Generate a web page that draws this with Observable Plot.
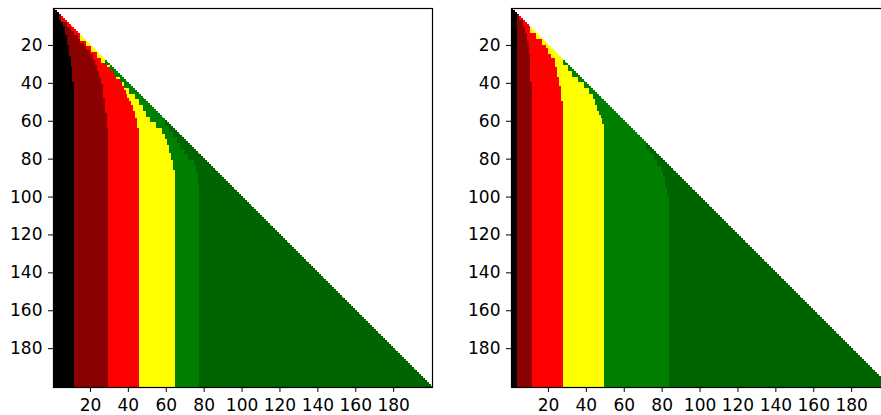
<!DOCTYPE html>
<html><head><meta charset="utf-8">
<script src="https://cdn.jsdelivr.net/npm/d3@7"></script>
<script src="https://cdn.jsdelivr.net/npm/@observablehq/plot@0.6"></script>
<style>
html,body{margin:0;padding:0;background:#fff;overflow:hidden;width:881px;height:415px;}
#wrap{position:relative;width:881px;height:415px;overflow:hidden;}
#wrap svg{position:absolute;top:0;}
</style></head><body><div id="wrap"></div>
<script>
// categories (band order from left to right) and their colours
const categories = ["black", "darkred", "red", "yellow", "green", "darkgreen"];
const colors = ["#000000", "#8b0000", "#ff0000", "#ffff00", "#008000", "#006400"];
const xTicks = [20, 40, 60, 80, 100, 120, 140, 160, 180];
const yTicks = [20, 40, 60, 80, 100, 120, 140, 160, 180];
const nRows = 200;

// Left panel: [row, first column of band] breakpoints
const darkredStartA = [[1,4],[7,6],[11,7],[15,8],[20,9],[26,10],[32,11],[40,12]];
const redStartA = [[1,5],[8,8],[11,10],[13,12],[15,14],[17,15],[19,17],[21,18],[23,20],[25,22],[28,23],[31,24],[34,25],[37,26],[41,27],[48,28],[56,29],[64,30]];
const yellowStartA = [[15,15],[18,18],[21,21],[24,24],[27,26],[30,29],[32,31],[34,33],[36,34],[38,36],[40,37],[42,38],[44,39],[46,40],[48,41],[50,42],[52,43],[55,44],[59,45],[64,46]];
const greenStartA = [[28,28],[31,31],[34,33],[37,36],[40,38],[43,41],[46,44],[49,46],[52,48],[55,50],[58,52],[61,55],[64,58],[67,60],[70,61],[73,62],[77,63],[81,64],[86,65]];
const darkgreenStartA = [[60,60],[63,62],[66,64],[69,66],[72,68],[75,70],[78,72],[81,75],[84,76],[88,77],[94,78]];

// Right panel
const darkredStartB = [[1,4]];
const redStartB = [[5,5],[7,7],[10,8],[14,9],[18,10],[25,11],[40,12]];
const yellowStartB = [[11,11],[14,14],[17,17],[20,19],[22,20],[25,22],[27,24],[32,25],[37,26],[42,27],[50,28]];
const greenStartB = [[28,28],[31,31],[34,33],[37,36],[40,39],[43,42],[46,44],[49,45],[52,46],[55,47],[57,48],[59,49],[62,50]];
const darkgreenStartB = [[72,72],[75,74],[78,76],[81,78],[84,80],[87,81],[90,82],[95,83],[100,84]];

function startAt(breaks, row) {
  let v = Infinity;
  for (const [r, c] of breaks) if (r <= row) v = c;
  return v;
}
function buildCells(bounds) {
  const cells = [];
  for (let r = 1; r <= nRows; r++) {
    const starts = bounds.map(b => startAt(b, r));
    for (let c = 1; c <= r; c++) {
      let k = 0;
      for (let i = 0; i < starts.length; i++) if (c >= starts[i]) k = i + 1;
      cells.push({row: r, col: c, cat: categories[k]});
    }
  }
  return cells;
}
const cellsA = buildCells([darkredStartA, redStartA, yellowStartA, greenStartA, darkgreenStartA]);
const cellsB = buildCells([darkredStartB, redStartB, yellowStartB, greenStartB, darkgreenStartB]);

function panel(cells) {
  return Plot.plot({
    width: 458, height: 415,
    marginLeft: 53, marginRight: 26, marginTop: 8, marginBottom: 28,
    style: {fontFamily: "DejaVu Sans", fontSize: "17px", color: "black", background: "white"},
    x: {domain: [0.5, 200.5], ticks: xTicks, tickSize: 5, tickPadding: 6, label: null},
    y: {domain: [0.5, 200.5], reverse: true, ticks: yTicks, tickSize: 5, tickPadding: 6, label: null},
    marks: [
      Plot.raster(cells, {
        x: "col", y: "row",
        fill: d => colors[categories.indexOf(d.cat)],
        x1: 0.5, x2: 200.5, y1: 0.5, y2: 200.5,
        width: 200, height: 200, imageRendering: "pixelated"
      }),
      Plot.frame({stroke: "black", strokeWidth: 1.2})
    ]
  });
}
const wrap = document.getElementById("wrap");
const a = panel(cellsA); a.style.left = "0px"; wrap.appendChild(a);
const b = panel(cellsB); b.style.left = "458px"; wrap.appendChild(b);
</script></body></html>
